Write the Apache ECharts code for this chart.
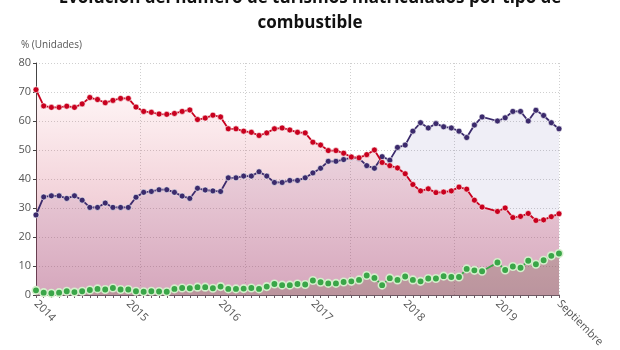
<!DOCTYPE html>
<html>
<head>
<meta charset="utf-8">
<script src="https://cdn.jsdelivr.net/npm/echarts@6/dist/echarts.min.js"></script>
<style>html,body{margin:0;padding:0;background:#fff}#c{width:620px;height:350px}</style>
</head>
<body>
<div id="c"></div>
<script>
// Months Jan 2014 .. Sep 2019 (Dec 2018 has no data)
const years = [2014, 2015, 2016, 2017, 2018, 2019];
const monthNames = ['Ene','Feb','Mar','Abr','May','Jun','Jul','Ago','Sep','Oct','Nov','Dic'];
const categories = [];
years.forEach(y => monthNames.forEach((m, k) => { if (y < 2019 || k < 9) categories.push(m + ' ' + y); }));

const tickLabels = {0: '2014', 12: '2015', 24: '2016', 36: '2017', 48: '2018', 60: '2019', 68: 'Septiembre'};

const diesel = [70.8,65.2,64.7,64.7,65.1,64.7,65.9,68.1,67.4,66.3,
  67.1,67.8,67.8,64.8,63.3,63.0,62.4,62.3,62.6,63.3,
  63.8,60.5,61.0,62.0,61.4,57.3,57.3,56.5,56.1,55.0,
  55.9,57.3,57.6,56.9,56.1,55.9,52.7,51.7,49.8,49.8,
  48.9,47.6,47.3,48.4,50.0,45.7,44.6,43.8,41.8,38.1,
  35.9,36.6,35.3,35.5,35.9,37.2,36.5,32.7,30.3,null,
  28.8,30.0,26.7,27.1,28.1,25.7,25.9,27.0,28.0];

const gasolina = [27.6,33.8,34.2,34.2,33.3,34.2,32.7,30.2,30.2,31.7,
  30.2,30.2,30.2,33.7,35.4,35.7,36.3,36.3,35.4,34.1,
  33.3,36.8,36.2,35.9,35.7,40.4,40.4,41.0,41.0,42.5,
  41.0,38.8,38.8,39.5,39.5,40.4,42.1,43.7,46.1,46.1,
  46.7,47.4,47.1,44.6,43.7,47.7,46.5,50.9,51.7,56.5,
  59.4,57.6,59.1,58.0,57.6,56.5,54.3,58.6,61.4,null,
  60.0,61.1,63.3,63.3,60.0,63.7,61.9,59.4,57.3];

const alternativos = [1.6,0.8,0.6,0.8,1.3,1.0,1.3,1.7,2.1,1.9,
  2.4,1.9,1.9,1.3,1.1,1.3,1.2,1.1,2.1,2.4,
  2.3,2.7,2.7,2.3,2.9,2.1,2.1,2.2,2.4,2.1,
  2.9,3.8,3.4,3.4,3.8,3.6,5.0,4.4,4.0,4.0,
  4.5,4.7,5.2,6.7,5.9,3.4,5.8,5.2,6.4,5.2,
  4.7,5.7,5.7,6.5,6.2,6.2,9.0,8.5,8.2,null,
  11.2,8.6,9.8,9.4,11.8,10.6,12.0,13.5,14.3];

const chart = echarts.init(document.getElementById('c'));
const FONT = '"Open Sans", "Noto Sans", sans-serif';

function areaSeries(data, color, z) {
  return {type: 'line', data: data, xAxisIndex: 0, connectNulls: true, showSymbol: false, symbol: 'none',
    silent: true, lineStyle: {width: 0}, areaStyle: {color: color, opacity: 1}, z: z, animation: false};
}
function lineSeries(name, data, color, size, border, bw, z) {
  return {type: 'line', name: name, data: data, xAxisIndex: 0, connectNulls: true, symbol: 'circle',
    symbolSize: size, showAllSymbol: true,
    itemStyle: {color: color, borderColor: border, borderWidth: bw},
    lineStyle: {color: color, width: 1.8}, z: z, animation: false};
}

chart.setOption({
  backgroundColor: '#fff',
  animation: false,
  title: {
    text: 'Evolución del número de turismos matriculados por tipo de\ncombustible',
    left: 'center', top: -19,
    textStyle: {fontFamily: FONT, fontSize: 17, fontWeight: 'bold', color: '#111', lineHeight: 25, align: 'center'}
  },
  graphic: [{type: 'text', left: 21, top: 40,
    style: {text: '% (Unidades)', fontFamily: FONT, fontSize: 10, fill: '#555'}}],
  grid: {left: 36, right: 61, top: 63, bottom: 46, containLabel: false},
  xAxis: [{
    type: 'category', data: categories, boundaryGap: false, position: 'bottom',
    axisLine: {lineStyle: {color: '#6e5a64', width: 1}},
    axisTick: {show: true, interval: 0, length: 3, lineStyle: {color: '#6e5a64'}},
    axisLabel: {
      interval: (i) => tickLabels[i] !== undefined,
      formatter: (v, i) => tickLabels[i] || '',
      rotate: -45, color: '#555', fontFamily: FONT, fontSize: 11, margin: 7
    },
    splitLine: {show: false}
  }, {
    type: 'value', min: 0, max: 5, interval: 1, position: 'top',
    axisLine: {show: false}, axisTick: {show: false}, axisLabel: {show: false},
    splitLine: {show: true, lineStyle: {color: '#cfcfcf', type: [1, 2], width: 1}}
  }],
  yAxis: {
    type: 'value', min: 0, max: 80, interval: 10,
    axisLine: {show: true, lineStyle: {color: '#444'}},
    axisTick: {show: true, length: 3, lineStyle: {color: '#444'}},
    axisLabel: {color: '#555', fontFamily: FONT, fontSize: 11, margin: 5},
    splitLine: {show: true, lineStyle: {color: '#cfcfcf', type: [1, 2], width: 1}}
  },
  series: [
    areaSeries(gasolina, 'rgba(70,60,150,0.085)', 1),
    areaSeries(diesel, new echarts.graphic.LinearGradient(0, 0, 0, 1, [
      {offset: 0, color: 'rgba(225,60,80,0.05)'},
      {offset: 1, color: 'rgba(170,50,95,0.38)'}]), 2),
    areaSeries(alternativos, 'rgba(115,95,70,0.26)', 3),
    lineSeries('Gasolina', gasolina, '#3b2a6c', 6, '#ffffff', 0.6, 10),
    lineSeries('Diésel', diesel, '#c8001e', 6, '#ffffff', 0.6, 11),
    lineSeries('Alternativos', alternativos, '#3aa648', 7.5, '#d5efcc', 1.6, 12)
  ]
});
</script>
</body>
</html>
